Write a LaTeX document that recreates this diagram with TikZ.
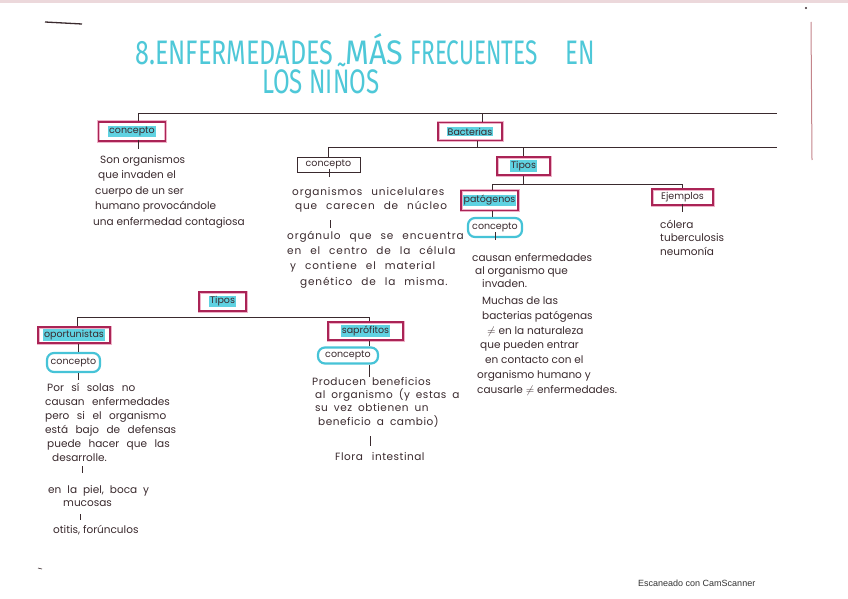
\documentclass[tikz,border=0pt]{standalone}
\usepackage{fontspec}
\setmainfont{Poppins}
\newfontfamily\titlef{Fira Sans}
\newfontfamily\scanf{Liberation Sans}
\definecolor{inkc}{RGB}{58,42,46}
\definecolor{boxpink}{RGB}{170,36,86}
\definecolor{glowpink}{RGB}{238,178,200}
\definecolor{hlcyan}{RGB}{95,210,225}
\definecolor{ringcyan}{RGB}{70,195,215}
\definecolor{titlecyan}{RGB}{78,200,216}
\definecolor{edgered}{RGB}{170,80,90}
\newcommand\hlt[1]{{\setlength\fboxsep{0.8pt}\colorbox{hlcyan}{#1}}}
\newcommand\spreadtext[2]{\addfontfeature{LetterSpace=#1}\spaceskip=#2 plus 1pt\relax}
\tikzset{
  boxtext/.style={font=\fontsize{9.5}{10}\selectfont, text=inkc, inner sep=0pt},
  pinkbox/.style={boxtext, draw=boxpink, line width=1.1pt, preaction={draw=glowpink, line width=3pt}},
  plainbox/.style={boxtext, draw=inkc, line width=0.7pt},
  cyanbox/.style={boxtext, draw=ringcyan, line width=2.2pt, rounded corners=7pt},
  conn/.style={draw=inkc, line width=0.8pt},
  body/.style={font=\fontsize{10.5}{14}\selectfont, text=inkc, align=left, anchor=base west, inner sep=0pt},
  titletext/.style={font=\titlef\fontsize{34}{34}\selectfont, text=titlecyan, anchor=base west, inner sep=0pt}
}
\begin{document}
\begin{tikzpicture}[x=1pt,y=-1pt]
\useasboundingbox[fill=white] (0,0) rectangle (848,599);
% scan artefacts
\fill[edgered!22] (0,0) rectangle (848,3);
\draw[edgered!70, line width=1pt] (811,22) -- (812,160);
\draw[inkc, line width=1.3pt] (45,22) -- (82,24);
\fill[inkc] (806,8) circle (1.2);
\draw[inkc, line width=0.6pt] (38,568) -- (42,569);
% title
\node[titletext] (title1) at (135,65) {\scalebox{0.74}[1]{8.ENFERMEDADES}\hspace{12pt}\scalebox{0.9}[1]{MÁS}\hspace{7pt}\scalebox{0.665}[1]{FRECUENTES}\hspace{28pt}\scalebox{0.71}[1]{EN}};
\node[titletext] (title2) at (262,94) {\scalebox{0.71}[1]{LOS NIÑOS}};
% boxes
\node[pinkbox, minimum width=67, minimum height=19] (c1) at (132,131.5) {\hlt{concepto}};
\node[pinkbox, minimum width=64, minimum height=18] (bac) at (470,131.5) {\hlt{Bacterias}};
\node[plainbox, minimum width=63, minimum height=15] (cB) at (328.5,164.5) {concepto};
\node[pinkbox, minimum width=53, minimum height=18] (t1) at (523.5,166) {\hlt{Tipos}};
\node[pinkbox, minimum width=57, minimum height=20] (pat) at (489.5,200.5) {\hlt{patógenos}};
\node[pinkbox, minimum width=61, minimum height=16] (ej) at (682.5,197) {Ejemplos};
\node[cyanbox, minimum width=54, minimum height=19] (cP) at (495,227.5) {concepto};
\node[pinkbox, minimum width=47, minimum height=19] (t2) at (222.5,301.5) {\hlt{Tipos}};
\node[pinkbox, minimum width=72, minimum height=16] (op) at (74,335) {\hlt{oportunistas}};
\node[cyanbox, minimum width=53, minimum height=19] (cO) at (73.5,362.5) {concepto};
\node[pinkbox, minimum width=75, minimum height=18] (sap) at (365.5,331) {\hlt{saprófitos}};
\node[cyanbox, minimum width=60, minimum height=16] (cS) at (348,355.5) {concepto};
% connectors
\coordinate (topR) at (777,113);
\coordinate (midR) at (777,147);
\coordinate (tl) at (0,184);
\coordinate (ll) at (0,317);
\draw[conn] ([xshift=6pt]c1.north) |- (topR);
\draw[conn] ([xshift=12pt]bac.north) -- ([xshift=12pt]bac.north |- topR);
\draw[conn] (cB.north) |- (midR);
\draw[conn] ([xshift=7pt]bac.south) -- ([xshift=7pt]bac.south |- midR);
\draw[conn] (t1.north) -- (t1.north |- midR);
\draw[conn] (t1.south) -- (t1.south |- tl);
\draw[conn] ([xshift=3pt]pat.north) -- ([xshift=3pt]pat.north |- tl) -| (ej.north);
\draw[conn] ([xshift=3pt]pat.south) -- ([xshift=3pt]pat.south |- cP.north);
\draw[conn] ([xshift=3pt]op.north) -- ([xshift=3pt]op.north |- ll) -- ([xshift=3.5pt]sap.north |- ll) -- ([xshift=3.5pt]sap.north);
\draw[conn] ([xshift=4pt]op.south) -- ([xshift=4pt]op.south |- cO.north);
\draw[conn] ([xshift=3.5pt]sap.south) -- ([xshift=3.5pt]sap.south |- cS.north);
% small ticks
\draw[conn] ([xshift=6pt,yshift=2pt]c1.south) -- ++(0,9);
\draw[conn] ([xshift=0.5pt,yshift=3pt]cB.south) -- ++(0,8);
\coordinate (tkB) at (330,220);
\draw[conn] (tkB) -- ++(0,8);
\draw[conn] ([yshift=6pt]cP.south) -- ++(0,8);
\draw[conn] ([yshift=2pt]ej.south) -- ++(0,8);
\draw[conn] ([xshift=4.5pt]cO.south) -- ++(0,7);
\coordinate (tkF1) at (82,466);
\draw[conn] (tkF1) -- ++(0,7);
\coordinate (tkF2) at (80,514);
\draw[conn] (tkF2) -- ++(0,6);
\draw[conn] ([xshift=21pt]cS.south) -- ++(0,12);
\coordinate (tkG) at (370,436);
\draw[conn] (tkG) -- ++(0,10);
% texts (anchored at the baseline of their last line)
\node[body] (tA) at (93,225) {\hspace*{7pt}Son organismos\\[1.5pt]\hspace*{5pt}que invaden el\\[1.5pt]\hspace*{2pt}cuerpo de un ser\\[1.5pt]\hspace*{2pt}humano provocándole\\[1.5pt]una enfermedad contagiosa};
\node[body, font=\fontsize{10.5}{14}\selectfont\spreadtext{8}{9pt}] (tB1) at (292,209) {organismos unicelulares\\\hspace*{3pt}que carecen de núcleo};
\node[body, font=\fontsize{10.5}{14}\selectfont\spreadtext{8}{9pt}] (tB2) at (287,285) {orgánulo que se encuentra\\[1pt]en el centro de la célula\\[1pt]\hspace*{3pt}y contiene el material\\[2pt]\hspace*{13pt}genético de la misma.};
\node[body, font=\fontsize{10.5}{13}\selectfont] (tC) at (472,287) {causan enfermedades\\\hspace*{3pt}al organismo que\\\hspace*{10pt}invaden.};
\node[body, font=\fontsize{10.5}{14.7}\selectfont] (tD) at (477,393) {\hspace*{5pt}Muchas de las\\\hspace*{5pt}bacterias patógenas\\\hspace*{10pt}$\neq$ en la naturaleza\\\hspace*{3pt}que pueden entrar\\\hspace*{8pt}en contacto con el\\organismo humano y\\causarle $\neq$ enfermedades.};
\node[body, font=\fontsize{10.5}{13.5}\selectfont] (tE) at (660,255) {cólera\\tuberculosis\\neumonía};
\node[body, font=\fontsize{10.5}{14}\selectfont\spreadtext{0}{7.5pt}] (tF1) at (45,461) {\hspace*{2pt}Por sí solas no\\causan enfermedades\\pero si el organismo\\está bajo de defensas\\\hspace*{2pt}puede hacer que las\\\hspace*{7pt}desarrolle.};
\node[body, font=\fontsize{10.5}{13}\selectfont\spreadtext{0}{6pt}] (tF2) at (48,506) {en la piel, boca y\\\hspace*{15pt}mucosas};
\node[body] (tF3) at (53,533) {otitis, forúnculos};
\node[body, font=\fontsize{10.5}{13.3}\selectfont\spreadtext{5}{6pt}] (tG1) at (312,425) {Producen beneficios\\\hspace*{3pt}al organismo (y estas a\\\hspace*{3pt}su vez obtienen un\\\hspace*{6pt}beneficio a cambio)};
\node[body, font=\fontsize{10.5}{14}\selectfont\spreadtext{5}{9pt}] (tG2) at (335,460) {Flora intestinal};
\node[font=\scanf\fontsize{9}{9}\selectfont, text=black!80, anchor=base west, inner sep=0pt] (scan) at (638,586) {Escaneado con CamScanner};
\end{tikzpicture}
\end{document}
